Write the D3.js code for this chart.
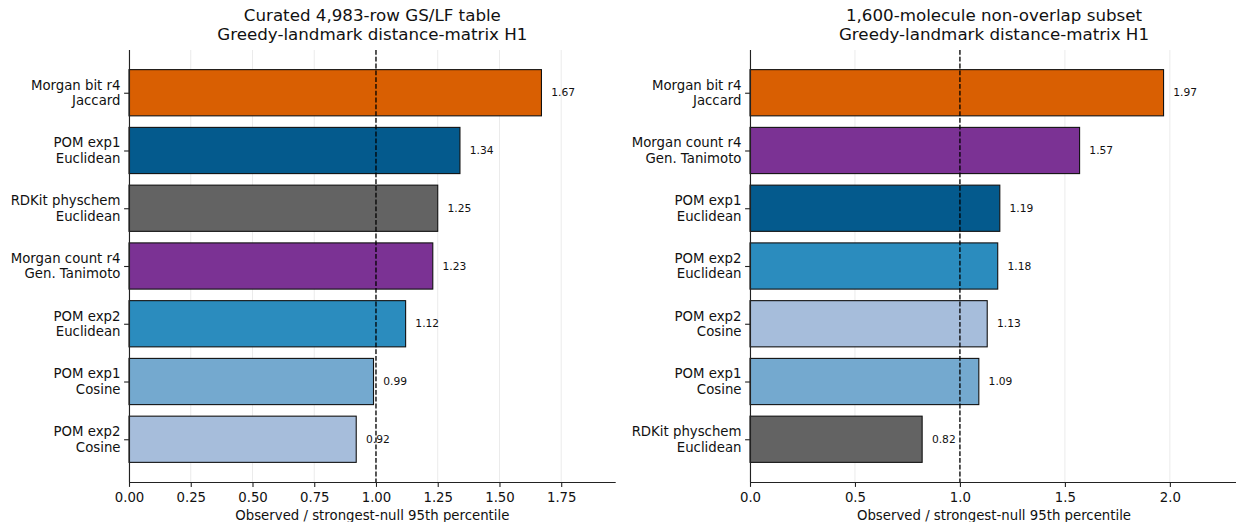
<!DOCTYPE html>
<html>
<head>
<meta charset="utf-8">
<script src="https://cdn.jsdelivr.net/npm/d3@7"></script>
<style>
  body { margin: 0; background: #fff; }
  text { font-family: 'DejaVu Sans', sans-serif; }
</style>
</head>
<body>
<div id="chart"></div>
<script>
// Representation labels (two lines each)
const leftLabels = [
  'Morgan bit r4|Jaccard', 'POM exp1|Euclidean', 'RDKit physchem|Euclidean',
  'Morgan count r4|Gen. Tanimoto', 'POM exp2|Euclidean', 'POM exp1|Cosine', 'POM exp2|Cosine'
]
const leftValues = [1.67, 1.34, 1.25, 1.23, 1.12, 0.99, 0.92]

const rightLabels = [
  'Morgan bit r4|Jaccard', 'Morgan count r4|Gen. Tanimoto', 'POM exp1|Euclidean',
  'POM exp2|Euclidean', 'POM exp2|Cosine', 'POM exp1|Cosine', 'RDKit physchem|Euclidean'
]
const rightValues = [1.97, 1.57, 1.19, 1.18, 1.13, 1.09, 0.82]

const leftTicks = [0, 0.25, 0.5, 0.75, 1.0, 1.25, 1.5, 1.75]
const rightTicks = [0, 0.5, 1.0, 1.5, 2.0]

const colorKeys = ['Morgan bit r4', 'Morgan count r4', 'POM exp1|Euclidean', 'POM exp2|Euclidean',
  'POM exp1|Cosine', 'POM exp2|Cosine', 'RDKit physchem']
const colorVals = ['#d95f02', '#7b3294', '#045a8d', '#2b8cbe', '#74a9cf', '#a6bddb', '#636363']

const titles = [
  ['Curated 4,983-row GS/LF table', 'Greedy-landmark distance-matrix H1'],
  ['1,600-molecule non-overlap subset', 'Greedy-landmark distance-matrix H1']
]
const xLabel = 'Observed / strongest-null 95th percentile'

function colorFor(label) {
  for (let i = 0; i < colorKeys.length; i++) {
    const k = colorKeys[i]
    if (k.includes('|') ? label === k : label.startsWith(k)) return colorVals[i]
  }
  return '#999'
}

const W = 1236, H = 522
const svg = d3.select('#chart').append('svg')
  .attr('width', W)
  .attr('height', H)

const plotTop = 50, plotBottom = 482
const axisFont = 13.3

function drawPanel(labels, values, ticks, fmt, x0, width, title) {
  const xmax = d3.max(values) * 1.18
  const x = d3.scaleLinear().domain([0, xmax]).range([x0, x0 + width])
  const n = values.length
  const pad = (n - 1 + 0.8) * 0.05
  const y = d3.scaleLinear().domain([-0.4 - pad, n - 1 + 0.4 + pad]).range([plotTop, plotBottom])
  const g = svg.append('g')

  // gridlines
  g.append('g').selectAll('line')
    .data(ticks)
    .join('line')
    .attr('x1', d => x(d)).attr('x2', d => x(d))
    .attr('y1', plotTop).attr('y2', plotBottom)
    .attr('stroke', '#ebebeb')
    .attr('stroke-width', 1)

  // bars
  g.append('g').selectAll('rect')
    .data(values)
    .join('rect')
    .attr('x', x(0))
    .attr('y', (d, i) => y(i - 0.4))
    .attr('width', d => x(d) - x(0))
    .attr('height', y(0.8) - y(0))
    .attr('fill', (d, i) => colorFor(labels[i]))
    .attr('stroke', '#111')
    .attr('stroke-width', 1.1)

  // reference line at 1
  g.append('line')
    .attr('x1', x(1)).attr('x2', x(1))
    .attr('y1', plotTop).attr('y2', plotBottom)
    .attr('stroke', '#000')
    .attr('stroke-width', 1.3)
    .attr('stroke-dasharray', '4.8,2')

  // value labels
  g.append('g').selectAll('text')
    .data(values)
    .join('text')
    .attr('x', d => x(d + xmax * 0.02))
    .attr('y', (d, i) => y(i))
    .attr('dy', '0.35em')
    .attr('font-size', 10.7)
    .attr('fill', '#111')
    .text(d => d.toFixed(2))

  // x axis
  const xAxis = d3.axisBottom(x).tickValues(ticks).tickFormat(d3.format(fmt)).tickSize(4.9).tickPadding(5.5)
  const ax = g.append('g').attr('transform', `translate(0,${plotBottom})`).call(xAxis)
  ax.select('.domain').attr('d', `M${x0},0.5H${x0 + width}`).attr('stroke', '#222').attr('stroke-width', 1.1)
  ax.selectAll('.tick line').attr('stroke', '#222').attr('stroke-width', 1.1)
  ax.selectAll('.tick text').attr('font-size', axisFont).attr('fill', '#111').attr('font-family', 'DejaVu Sans')

  // y axis
  const yAxis = d3.axisLeft(y).tickValues(d3.range(n)).tickFormat('').tickSize(4.9)
  const ay = g.append('g').attr('transform', `translate(${x0},0)`).call(yAxis)
  ay.select('.domain').attr('d', `M0.5,${plotTop}V${plotBottom}`).attr('stroke', '#222').attr('stroke-width', 1.1)
  ay.selectAll('.tick line').attr('stroke', '#222').attr('stroke-width', 1.1)

  // y tick labels (two lines)
  const yl = g.append('g').selectAll('text')
    .data(labels)
    .join('text')
    .attr('text-anchor', 'end')
    .attr('font-size', axisFont)
    .attr('fill', '#111')
    .attr('transform', (d, i) => `translate(${x0 - 8.5},${y(i)})`)
  yl.selectAll('tspan')
    .data(d => d.split('|'))
    .join('tspan')
    .attr('x', 0)
    .attr('y', (d, i) => (i - 0.5) * 15.6)
    .attr('dy', '0.35em')
    .text(d => d)

  // title
  const cx = x0 + width / 2
  g.append('text')
    .attr('text-anchor', 'middle')
    .attr('font-size', 16.7)
    .attr('fill', '#111')
    .selectAll('tspan')
    .data(title)
    .join('tspan')
    .attr('x', cx)
    .attr('y', (d, i) => 15 + i * 19)
    .attr('dy', '0.35em')
    .text(d => d)

  // x label
  g.append('text')
    .attr('x', cx)
    .attr('y', 515.5)
    .attr('dy', '0.35em')
    .attr('text-anchor', 'middle')
    .attr('font-size', axisFont)
    .attr('fill', '#111')
    .text(xLabel)
}

drawPanel(leftLabels, leftValues, leftTicks, '.2f', 129, 486.7, titles[0])
drawPanel(rightLabels, rightValues, rightTicks, '.1f', 750, 488, titles[1])
</script>
</body>
</html>
